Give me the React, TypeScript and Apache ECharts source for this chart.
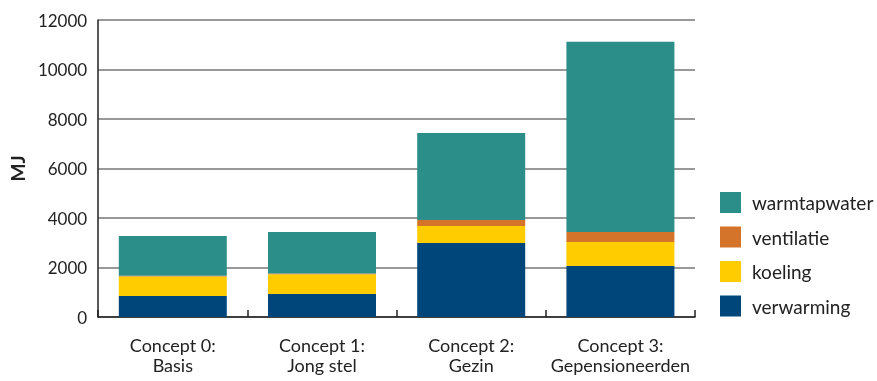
import React, { useEffect, useRef } from "react";
import * as echarts from "echarts";

const categories = ["Concept 0:\nBasis", "Concept 1:\nJong stel", "Concept 2:\nGezin", "Concept 3:\nGepensioneerden"];
const verwarming = [850, 930, 2990, 2060];
const koeling = [785, 797, 687, 970];
const ventilatie = [30, 30, 243, 405];
const warmtapwater = [1611, 1681, 3519, 7684];
const yTicks = { min: 0, max: 12000, interval: 2000 };

const FONT = "Lato";

export default function App() {
  const ref = useRef<HTMLDivElement>(null);
  useEffect(() => {
    const chart = echarts.init(ref.current!, undefined, { renderer: "svg" });
    const mk = (name: string, data: number[], color: string) => ({
      name,
      type: "bar",
      stack: "total",
      data,
      barWidth: 108,
      itemStyle: { color },
    });
    chart.setOption({
      animation: false,
      textStyle: { fontFamily: FONT },
      grid: { left: 96, right: 182, top: 20, bottom: 64 },
      legend: {
        orient: "vertical",
        left: 720,
        top: 192,
        padding: 0,
        itemWidth: 21,
        itemHeight: 21,
        itemGap: 13.5,
        icon: "rect",
        textStyle: { fontFamily: FONT, fontSize: 19, color: "#222", padding: [0, 0, 0, 6] },
        data: ["warmtapwater", "ventilatie", "koeling", "verwarming"],
      },
      xAxis: {
        type: "category",
        data: categories,
        axisLine: { lineStyle: { color: "#222", width: 1.5 } },
        axisTick: { show: true, inside: true, interval: 0, length: 7, lineStyle: { color: "#222", width: 1.5 } },
        axisLabel: { interval: 0, fontFamily: FONT, fontSize: 18, color: "#222", lineHeight: 20, margin: 18 },
      },
      yAxis: {
        type: "value",
        min: yTicks.min,
        max: yTicks.max,
        interval: yTicks.interval,
        name: "MJ",
        nameLocation: "middle",
        nameGap: 60,
        nameTextStyle: { fontFamily: FONT, fontSize: 19, fontWeight: "bold", color: "#222" },
        axisLine: { show: true, lineStyle: { color: "#222", width: 1.5 } },
        axisTick: { show: false },
        axisLabel: { fontFamily: FONT, fontSize: 17, color: "#222", margin: 11, formatter: (v: number) => String(v) },
        splitLine: { lineStyle: { color: "#777", width: 1.5 } },
      },
      series: [
        mk("verwarming", verwarming, "#00467a"),
        mk("koeling", koeling, "#ffcc00"),
        mk("ventilatie", ventilatie, "#d4742a"),
        mk("warmtapwater", warmtapwater, "#2b8e89"),
      ],
    });
    return () => chart.dispose();
  }, []);
  return <div ref={ref} style={{ position: "fixed", left: 0, top: 0, width: 877, height: 381 }} />;
}
